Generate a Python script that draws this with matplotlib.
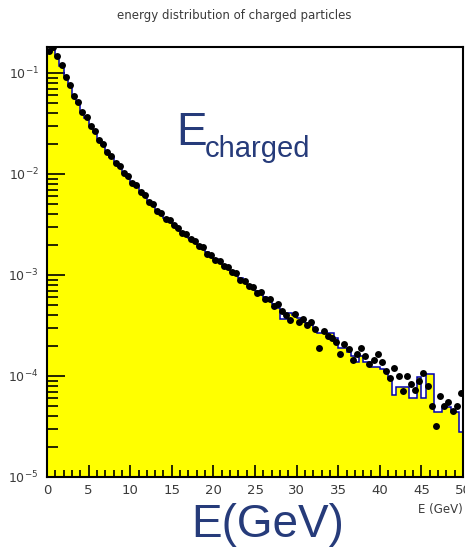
import numpy as np
import matplotlib
matplotlib.use("Agg")
import matplotlib.pyplot as plt
from matplotlib.ticker import MultipleLocator, LogLocator, NullFormatter

# bin edges: 100 bins of 0.5 GeV between 0 and 50
bin_lo = 0.0
bin_hi = 50.0
n_bins = 100

# histogram contents (log10), one per bin
hist_log10 = [
    -0.80, -0.75, -0.82, -0.93, -1.03, -1.13, -1.22, -1.30, -1.38, -1.45,
    -1.52, -1.58, -1.65, -1.71, -1.77, -1.83, -1.88, -1.93, -1.98, -2.03,
    -2.08, -2.12, -2.17, -2.22, -2.27, -2.31, -2.36, -2.40, -2.44, -2.47,
    -2.50, -2.54, -2.57, -2.60, -2.63, -2.67, -2.70, -2.74, -2.77, -2.81,
    -2.84, -2.87, -2.90, -2.93, -2.96, -3.00, -3.03, -3.07, -3.10, -3.13,
    -3.16, -3.19, -3.22, -3.26, -3.29, -3.33, -3.44, -3.44, -3.38, -3.40,
    -3.43, -3.46, -3.48, -3.50, -3.52, -3.57, -3.57, -3.57, -3.57, -3.62,
    -3.72, -3.72, -3.76, -3.80, -3.86, -3.80, -3.86, -3.86, -3.91, -3.91,
    -3.93, -3.95, -4.03, -4.19, -4.11, -4.11, -4.11, -4.22, -4.22, -4.01,
    -4.22, -3.98, -3.98, -4.36, -4.36, -4.31, -4.31, -4.36, -4.36, -4.55,
]

# data points (log10), one per bin centre
points_log10 = [
    -0.78, -0.74, -0.83, -0.92, -1.04, -1.12, -1.23, -1.29, -1.39, -1.44,
    -1.53, -1.57, -1.66, -1.70, -1.78, -1.82, -1.89, -1.92, -1.99, -2.02,
    -2.09, -2.11, -2.18, -2.21, -2.28, -2.30, -2.37, -2.39, -2.45, -2.46,
    -2.51, -2.53, -2.58, -2.59, -2.64, -2.66, -2.71, -2.72, -2.79, -2.80,
    -2.85, -2.86, -2.91, -2.92, -2.97, -2.98, -3.05, -3.06, -3.11, -3.12,
    -3.18, -3.17, -3.24, -3.24, -3.31, -3.29, -3.36, -3.40, -3.45, -3.39,
    -3.47, -3.44, -3.50, -3.47, -3.53, -3.72, -3.55, -3.60, -3.62, -3.66,
    -3.78, -3.68, -3.73, -3.84, -3.78, -3.72, -3.80, -3.88, -3.84, -3.78,
    -3.86, -3.95, -4.02, -3.92, -4.00, -4.15, -4.00, -4.08, -4.14, -4.05,
    -3.97, -4.10, -4.30, -4.50, -4.20, -4.30, -4.26, -4.35, -4.30, -4.17,
]

title = "energy distribution of charged particles"
xtick_vals = [0, 5, 10, 15, 20, 25, 30, 35, 40, 45, 50]
ytick_vals = [1e-5, 1e-4, 1e-3, 1e-2, 1e-1]

navy = "#263b7a"
grey = "#3a3a3a"

edges = np.linspace(bin_lo, bin_hi, n_bins + 1)
centres = 0.5 * (edges[:-1] + edges[1:])
hist = 10.0 ** np.array(hist_log10)
points = 10.0 ** np.array(points_log10)

fig = plt.figure(figsize=(4.65, 5.49), dpi=100)
ax = fig.add_axes([47 / 465, 1 - 477 / 549, 416 / 465, 430 / 549])

ax.stairs(hist, edges, baseline=1e-6, fill=True, color="#ffff00", zorder=1)
ax.stairs(hist, edges, baseline=None, color="#0000b4", lw=1.1, zorder=2)
ax.plot(centres, points, "o", color="black", ms=5.0, mew=0, zorder=3)

ax.set_yscale("log")
ax.set_xlim(0, 50)
ax.set_ylim(1e-5, 10 ** -0.743)

ax.xaxis.set_major_locator(MultipleLocator(5))
ax.xaxis.set_minor_locator(MultipleLocator(1))
ax.set_xticks(xtick_vals)
ax.set_xticklabels([str(v) for v in xtick_vals])
ax.set_yticks(ytick_vals)
ax.set_yticklabels([r"$10^{%d}$" % int(np.log10(v)) for v in ytick_vals])
ax.yaxis.set_minor_locator(LogLocator(base=10, subs=np.arange(2, 10)))
ax.yaxis.set_minor_formatter(NullFormatter())

ax.tick_params(axis="both", which="both", direction="in", colors="black",
               labelcolor=grey, width=1.2)
ax.tick_params(axis="x", which="major", length=9, labelsize=9.5, pad=5)
ax.tick_params(axis="x", which="minor", length=5)
ax.tick_params(axis="y", which="major", length=13, labelsize=9, pad=6)
ax.tick_params(axis="y", which="minor", length=8)
ax.tick_params(top=False, right=False, which="both")
for s in ax.spines.values():
    s.set_linewidth(1.5)

fig.text(234 / 465, 1 - 15 / 549, title, ha="center", va="center",
         fontsize=8.5, color=grey)
fig.text(463 / 465, 1 - 509 / 549, "E (GeV)", ha="right", va="center",
         fontsize=8.5, color=grey)

fig.text(176 / 465, 1 - 145 / 549, "E", ha="left", va="baseline",
         fontsize=33, color=navy, family="Liberation Sans")
fig.text(205 / 465, 1 - 157 / 549, "charged", ha="left", va="baseline",
         fontsize=21, color=navy, family="Liberation Sans")
fig.text(268 / 465, 1 - 537 / 549, "E(GeV)", ha="center", va="baseline",
         fontsize=33, color=navy, family="Liberation Sans")

fig.savefig("out.png", dpi=100)
